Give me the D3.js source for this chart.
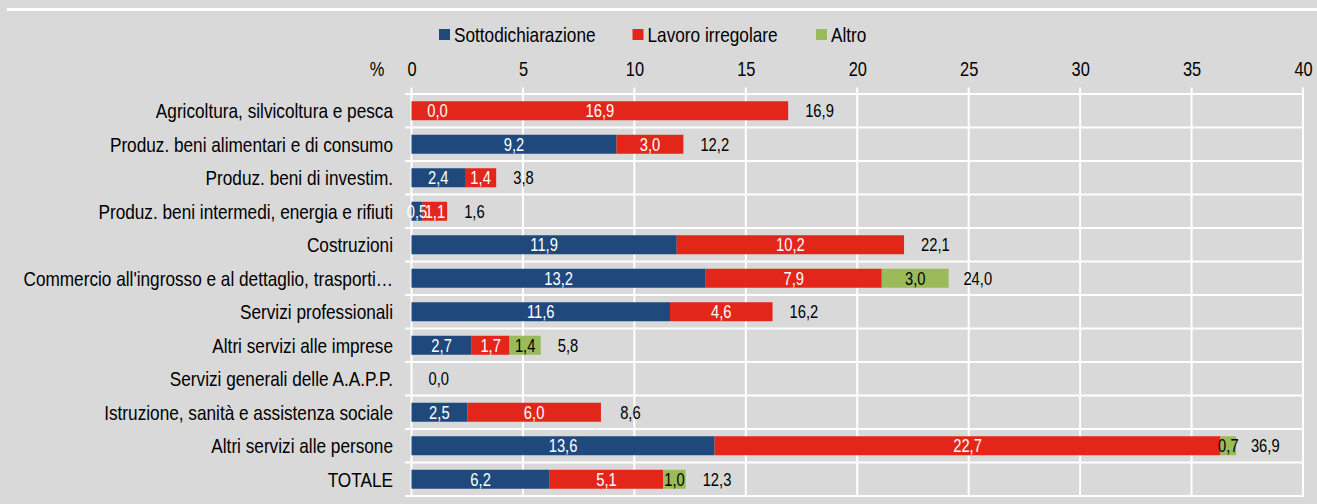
<!DOCTYPE html>
<html>
<head>
<meta charset="utf-8">
<script src="https://cdn.jsdelivr.net/npm/d3@7"></script>
<style>
  html, body { margin: 0; padding: 0; background: #d9d9d9; }
  svg { display: block; }
</style>
</head>
<body>
<svg id="chart" width="1317" height="504"></svg>
<script>
const categories = [
  "Agricoltura, silvicoltura e pesca",
  "Produz. beni alimentari e di consumo",
  "Produz. beni di investim.",
  "Produz. beni intermedi, energia e rifiuti",
  "Costruzioni",
  "Commercio all'ingrosso e al dettaglio, trasporti…",
  "Servizi professionali",
  "Altri servizi alle imprese",
  "Servizi generali delle A.A.P.P.",
  "Istruzione, sanità e assistenza sociale",
  "Altri servizi alle persone",
  "TOTALE"
];
const seriesNames = ["Sottodichiarazione", "Lavoro irregolare", "Altro"];
const sottodichiarazione = [0.0, 9.2, 2.4, 0.5, 11.9, 13.2, 11.6, 2.7, null, 2.5, 13.6, 6.2];
const lavoroIrregolare   = [16.9, 3.0, 1.4, 1.1, 10.2, 7.9, 4.6, 1.7, null, 6.0, 22.7, 5.1];
const altro              = [null, null, null, null, null, 3.0, null, 1.4, null, null, 0.7, 1.0];
const totali             = [16.9, 12.2, 3.8, 1.6, 22.1, 24.0, 16.2, 5.8, 0.0, 8.6, 36.9, 12.3];
const xTicks = [0, 5, 10, 15, 20, 25, 30, 35, 40];

const colors = ["#1f497d", "#e3261a", "#9bbb59"];
const labelColors = ["#ffffff", "#ffffff", "#000000"];
const fmt = v => v.toFixed(1).replace(".", ",");

const svg = d3.select("#chart");

// font detection: prefer a narrow face, else compress Liberation Sans horizontally
const probe = svg.append("text").attr("font-size", 20).text("Sottodichiarazione");
probe.attr("font-family", "'Liberation Sans'");
const wRegular = probe.node().getComputedTextLength();
probe.attr("font-family", "'Liberation Sans Narrow', 'Arial Narrow'");
const wNarrow = probe.node().getComputedTextLength();
probe.remove();
const hasNarrow = wNarrow < wRegular * 0.9;
const FONT = hasNarrow ? "'Liberation Sans Narrow', 'Arial Narrow', sans-serif" : "'Liberation Sans', Arial, sans-serif";
const SX = hasNarrow ? 1 : 0.82;
function styleText(sel, size) {
  sel.attr("font-family", FONT).attr("font-size", size);
  return sel;
}
function place(sel, fx, fy) {
  sel.attr("x", null).attr("y", null)
     .attr("transform", (d, i) => `translate(${typeof fx === "function" ? fx(d, i) : fx},${typeof fy === "function" ? fy(d, i) : fy}) scale(${SX},1)`);
  return sel;
}

const x = d3.scaleLinear().domain([0, 40]).range([411.5, 1303]);
const y = d3.scaleBand().domain(categories).range([94, 496]).paddingInner(0.433).paddingOuter(0.2165);
const step = y.step();

// top white line
svg.append("line").attr("x1", 7).attr("x2", 1317).attr("y1", 9.5).attr("y2", 9.5)
  .attr("stroke", "#fff").attr("stroke-width", 3);

// vertical gridlines
svg.append("g").selectAll("line").data(xTicks).join("line")
  .attr("x1", d => x(d)).attr("x2", d => x(d))
  .attr("y1", 87.5).attr("y2", 497)
  .attr("stroke", "#fff").attr("stroke-width", 2);

// horizontal separators (category boundaries)
const bounds = d3.range(categories.length + 1).map(i => 94 + i * step);
svg.append("g").selectAll("line").data(bounds).join("line")
  .attr("x1", 405).attr("x2", x(40) + 1)
  .attr("y1", d => d).attr("y2", d => d)
  .attr("stroke", "#fff").attr("stroke-width", 2);

// top axis labels
const xAxis = d3.axisTop(x).tickValues(xTicks).tickSize(0).tickPadding(0).tickFormat(d3.format("d"));
const ax = svg.append("g").attr("transform", "translate(0,76)").call(xAxis);
ax.select(".domain").remove();
ax.selectAll("text").attr("fill", "#000").attr("dy", null).call(styleText, 20).call(place, 0, 0);
styleText(svg.append("text"), 20).attr("text-anchor", "middle").text("%").call(place, 377, 76);

// category labels
const yAxis = d3.axisLeft(y).tickSize(0).tickPadding(0);
const ay = svg.append("g").attr("transform", "translate(393,0)").call(yAxis);
ay.select(".domain").remove();
ay.selectAll("text").attr("fill", "#000").attr("dy", "0.36em").call(styleText, 21).call(place, 0, 0);

// stacked data
const seriesValues = [sottodichiarazione, lavoroIrregolare, altro];
const rows = categories.map((c, i) => {
  let acc = 0;
  return seriesValues.map((vals, s) => {
    const v = vals[i];
    const seg = { cat: c, s, v, x0: acc, x1: acc + (v || 0) };
    acc += (v || 0);
    return seg;
  });
}).flat();

svg.append("g").selectAll("rect").data(rows.filter(d => d.v != null && d.v > 0)).join("rect")
  .attr("x", d => x(d.x0)).attr("width", d => x(d.x1) - x(d.x0))
  .attr("y", d => y(d.cat)).attr("height", y.bandwidth())
  .attr("fill", d => colors[d.s]);

// segment labels
svg.append("g").selectAll("text").data(rows.filter(d => d.v != null)).join("text")
  .attr("dy", "0.36em").attr("text-anchor", "middle")
  .attr("fill", d => labelColors[d.s])
  .text(d => fmt(d.v))
  .call(styleText, 18)
  .call(place, d => d.v === 0 ? x(0) + 26 : (x(d.x0) + x(d.x1)) / 2, d => y(d.cat) + y.bandwidth() / 2);

// total labels
svg.append("g").selectAll("text").data(categories).join("text")
  .attr("dy", "0.36em").attr("fill", "#000")
  .text((d, i) => fmt(totali[i]))
  .call(styleText, 18)
  .call(place, (d, i) => x(totali[i]) + 17, d => y(d) + y.bandwidth() / 2);

// legend
const legendX = [439, 632.5, 816];
const lg = svg.append("g").selectAll("g").data(seriesNames).join("g")
  .attr("transform", (d, i) => `translate(${legendX[i]},29)`);
lg.append("rect").attr("width", 11).attr("height", 11).attr("fill", (d, i) => colors[i]);
lg.append("text").attr("dy", "0.36em").text(d => d)
  .call(styleText, 21).call(place, 15, 5.5);
</script>
</body>
</html>
